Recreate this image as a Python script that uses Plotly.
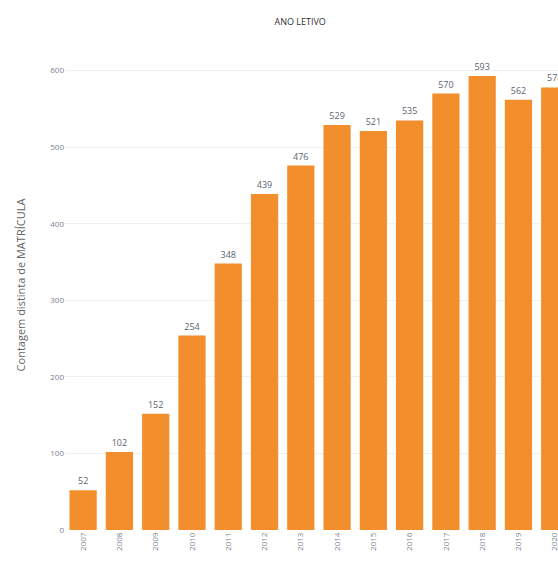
import plotly.graph_objects as go

years = ["2007", "2008", "2009", "2010", "2011", "2012", "2013", "2014",
         "2015", "2016", "2017", "2018", "2019", "2020"]
counts = [52, 102, 152, 254, 348, 439, 476, 529, 521, 535, 570, 593, 562, 578]
y_ticks = [0, 100, 200, 300, 400, 500, 600]

fig = go.Figure(go.Bar(
    x=years, y=counts,
    marker=dict(color="#F28E2B", line=dict(width=0)),
    text=[str(v) for v in counts],
    textposition="outside",
    textfont=dict(size=9, color="#5a6470", family="Open Sans"),
    cliponaxis=True,
))

fig.update_layout(
    width=558, height=568,
    margin=dict(l=65, r=0, t=40, b=38),
    plot_bgcolor="white", paper_bgcolor="white",
    bargap=0.25,
    showlegend=False,
    title=dict(text="ANO LETIVO", x=0.538, xanchor="center", y=0.962, yanchor="middle",
               font=dict(size=9, color="#333333", family="Open Sans")),
    xaxis=dict(range=[-0.5, 13.09], tickangle=-90, showgrid=False,
               tickfont=dict(size=8, color="#7a8290", family="Open Sans"),
               showline=False, ticks=""),
    yaxis=dict(range=[0, 640], tickvals=y_ticks, showgrid=True, gridcolor="#f0f0f0",
               zeroline=False, tickfont=dict(size=8, color="#7a8290", family="Open Sans"),
               ticks="", ticklen=4,
               title=dict(text="Contagem distinta de MATRÍCULA", standoff=22,
                          font=dict(size=11, color="#666666", family="Open Sans"))),
)

fig.write_html("out.html", config={"displayModeBar": False},
               post_script="document.body.style.margin='0';document.body.style.overflow='hidden';")
